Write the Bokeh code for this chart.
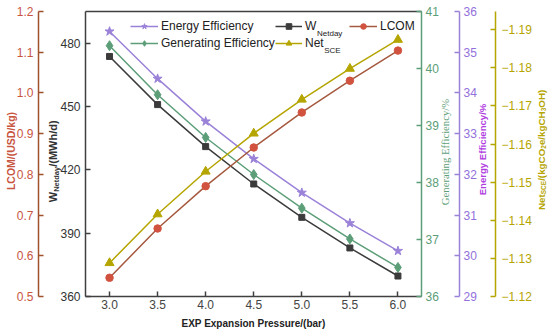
import math
from bokeh.plotting import figure
from bokeh.models import (Range1d, LinearAxis, FixedTicker, CustomJSTickFormatter,
                          NumeralTickFormatter, Legend, LegendItem, Label)
from bokeh.embed import file_html
from bokeh.resources import INLINE

# ---------------- data ----------------
pressure = [3.0, 3.5, 4.0, 4.5, 5.0, 5.5, 6.0]
energy_eff = [35.51, 34.35, 33.30, 32.38, 31.55, 30.80, 30.12]
gen_eff = [40.40, 39.54, 38.79, 38.14, 37.55, 37.01, 36.51]
w_netday = [473.7, 450.9, 431.0, 413.3, 397.5, 383.0, 369.7]
lcom = [0.546, 0.667, 0.771, 0.866, 0.952, 1.030, 1.104]
net_sce = [-1.1288, -1.1416, -1.1528, -1.1628, -1.1717, -1.1798, -1.1874]

x_ticks = [3.0, 3.5, 4.0, 4.5, 5.0, 5.5, 6.0]
w_ticks = [360, 390, 420, 450, 480]
lcom_ticks = [0.5, 0.6, 0.7, 0.8, 0.9, 1.0, 1.1, 1.2]
gen_ticks = [36, 37, 38, 39, 40, 41]
energy_ticks = [29, 30, 31, 32, 33, 34, 35, 36]
net_ticks = [-1.12, -1.13, -1.14, -1.15, -1.16, -1.17, -1.18, -1.19]

# axis extents (value at plot-box bottom, value at plot-box top)
X_BOX = (2.75, 6.245)
W_BOX = (360, 495)
LCOM_BOX = (0.5, 1.2)
GEN_BOX = (36, 41)
EN_BOX = (29, 36)
NET_BOX = (-1.12, -1.1948)

# ---------------- layout (page pixels) ----------------
W_PX, H_PX = 550, 333
FL, FR, FT, FB = 85, 421, 11, 296          # plot box edges
AX_LCOM, AX_EN, AX_NET = 38, 459, 495       # extra axis line positions

def xval(px):
    return X_BOX[0] + (px - FL) / (FR - FL) * (X_BOX[1] - X_BOX[0])

def yval(box, py):
    return box[0] + (FB - py) / (FB - FT) * (box[1] - box[0])

def rng(box):
    return Range1d(yval(box, H_PX), yval(box, 0))

# ---------------- style ----------------
FONT = "Liberation Sans"
C_EN = "#9B82D9"; C_EN_LAB = "#B03CDF"; C_EN_TICK = "#9370DB"
C_GEN = "#5C9E78"
C_W = "#3B3B3B"; C_BOX = "#404040"
C_LC_LINE = "#A5593F"; C_LC_PT = "#D1533F"; C_LC_AX = "#A0522D"; C_LC_TXT = "#C8553F"
C_NET = "#B5A500"

p = figure(width=W_PX, height=H_PX, output_backend="svg", toolbar_location=None,
           x_range=Range1d(xval(0), xval(W_PX)), y_range=rng(W_BOX),
           min_border_left=0, min_border_right=0, min_border_top=0, min_border_bottom=0,
           x_axis_location=None, y_axis_location=None)
p.title.visible = False
p.xgrid.visible = False
p.ygrid.visible = False
p.outline_line_color = None
p.background_fill_color = "white"
p.border_fill_color = "white"

p.extra_y_ranges = {"lcom": rng(LCOM_BOX), "gen": rng(GEN_BOX),
                    "energy": rng(EN_BOX), "net": rng(NET_BOX)}

def make_axis(side, fixed, bounds, color, tick_color, ticks, standoff=5, range_name=None,
              formatter=None):
    kw = {} if range_name is None else {"y_range_name": range_name}
    ax = LinearAxis(fixed_location=fixed, bounds=(min(bounds), max(bounds)), **kw)
    ax.ticker = FixedTicker(ticks=ticks)
    ax.axis_line_color = color
    ax.axis_line_width = 1.5
    ax.major_tick_line_color = color
    ax.major_tick_line_width = 1.5
    ax.major_tick_in = 5
    ax.major_tick_out = 0
    ax.minor_tick_line_color = None
    ax.major_label_text_font = FONT
    ax.major_label_text_font_size = "12px"
    ax.major_label_text_color = tick_color
    ax.major_label_standoff = standoff
    if formatter is not None:
        ax.formatter = formatter
    p.add_layout(ax, side)
    return ax

fmt1 = NumeralTickFormatter(format="0.0")
make_axis("below", W_BOX[0], X_BOX, C_BOX, "#444444", x_ticks, standoff=3, formatter=fmt1)
top = make_axis("above", W_BOX[1], X_BOX, C_BOX, C_BOX, [])
top.major_label_text_font_size = "0px"
make_axis("left", X_BOX[0], W_BOX, C_BOX, "#333333", w_ticks)
make_axis("left", xval(AX_LCOM), LCOM_BOX, C_LC_AX, C_LC_TXT, lcom_ticks, range_name="lcom",
          formatter=NumeralTickFormatter(format="0.0"))
make_axis("right", X_BOX[1], GEN_BOX, C_GEN, C_GEN, gen_ticks, standoff=4, range_name="gen")
make_axis("right", xval(AX_EN), EN_BOX, C_EN, C_EN_TICK, energy_ticks, standoff=4,
          range_name="energy")
make_axis("right", xval(AX_NET), NET_BOX, C_NET, C_NET, net_ticks, standoff=6,
          range_name="net",
          formatter=CustomJSTickFormatter(code="return '\\u2212' + Math.abs(tick).toFixed(2);"))

# ---------------- series ----------------
LW = 1.5
e_l = p.line(pressure, energy_eff, y_range_name="energy", line_color=C_EN, line_width=LW)
e_p = p.scatter(pressure, energy_eff, y_range_name="energy", marker="star", size=9.5,
                fill_color=C_EN, line_color=C_EN)
g_l = p.line(pressure, gen_eff, y_range_name="gen", line_color=C_GEN, line_width=LW)
g_p = p.scatter(pressure, gen_eff, y_range_name="gen", marker="diamond", size=10,
                fill_color=C_GEN, line_color=C_GEN)
w_l = p.line(pressure, w_netday, line_color=C_W, line_width=LW)
w_p = p.scatter(pressure, w_netday, marker="square", size=6, fill_color=C_W, line_color=C_W)
l_l = p.line(pressure, lcom, y_range_name="lcom", line_color=C_LC_LINE, line_width=LW)
l_p = p.scatter(pressure, lcom, y_range_name="lcom", marker="circle", size=7.5,
                fill_color=C_LC_PT, line_color=C_LC_PT)
n_l = p.line(pressure, net_sce, y_range_name="net", line_color=C_NET, line_width=LW)
n_p = p.scatter(pressure, net_sce, y_range_name="net", marker="triangle", size=9,
                fill_color=C_NET, line_color=C_NET)

ITEM_H, GAP = 14, 3
LEG_TOP = 18.8

def make_legend(items, left, top_px, gw=28):
    h = ITEM_H * len(items) + GAP * (len(items) - 1)
    lg = Legend(items=items, orientation="vertical", location=(left, H_PX - top_px - h),
                padding=0, margin=0, spacing=GAP, glyph_width=gw, glyph_height=ITEM_H,
                label_height=ITEM_H, label_width=10, label_standoff=3, label_text_font=FONT,
                label_text_font_size="12px", label_text_color="#222222",
                border_line_color=None, background_fill_alpha=0)
    p.add_layout(lg)

make_legend([LegendItem(label="Energy Efficiency", renderers=[e_l, e_p]),
             LegendItem(label="Generating Efficiency", renderers=[g_l, g_p])], 130, LEG_TOP)
make_legend([LegendItem(label="W", renderers=[w_l, w_p]),
             LegendItem(label="Net", renderers=[n_l, n_p])], 275, LEG_TOP, gw=27)
make_legend([LegendItem(label="LCOM", renderers=[l_l, l_p])], 349, LEG_TOP)

# ---------------- text labels (screen units, frame == whole canvas) ----------------
BOLD = {"N": 722, "e": 556, "t": 333, "S": 667, "C": 722, "E": 667, "/": 278, "(": 333,
        "k": 556, "g": 611, "O": 778, "2": 556, "H": 722, "3": 556, ")": 333, "W": 944,
        "d": 611, "a": 556, "y": 556, "M": 833, "h": 611}

def lab(text, X, Y, size, color, font=FONT, style="bold", angle=math.pi / 2,
        align="left", baseline="alphabetic"):
    p.add_layout(Label(x=X, y=H_PX - Y, x_units="screen", y_units="screen", text=text,
                       angle=angle, text_align=align, text_baseline=baseline,
                       text_font=font, text_font_size=f"{size}px", text_font_style=style,
                       text_color=color))

def rotated_pieces(pieces, X_main, X_sub, Y0, main, sub, color):
    Y = Y0
    for txt, is_sub in pieces:
        sz = sub if is_sub else main
        lab(txt, X_sub if is_sub else X_main, Y, sz, color)
        Y -= sum(BOLD[c] for c in txt) / 1000.0 * sz

lab("EXP Expansion Pressure/(bar)", 253, 322.5, 10, "#222222", angle=0, align="center",
    baseline="middle")
lab("LCOM/(USD/kg)", 10.8, 150.5, 10.5, C_LC_TXT, align="center", baseline="middle")
rotated_pieces([("W", False), ("Netday", True), ("/(MWh/d)", False)],
               52.5, 55.5, 201.7, 11, 7.5, "#333333")
lab("Generating Efficiency/%", 444.0, 151.5, 10.7, C_GEN, font="Liberation Serif",
    style="normal", align="center", baseline="middle")
lab("Energy Efficiency/%", 481.7, 149.0, 9.6, C_EN_LAB, align="center", baseline="middle")
rotated_pieces([("Net", False), ("SCE", True), ("/(kgCO", False), ("2", True),
                ("e/kgCH", False), ("3", True), ("OH)", False)],
               540.7, 543.2, 209.5, 9.8, 6.5, C_NET)

# legend subscripts
row1 = LEG_TOP + ITEM_H / 2
row2 = row1 + ITEM_H + GAP
lab("Netday", 316.5, row1 + 6.8, 8, "#222222", style="normal", angle=0)
lab("SCE", 323.7, row2 + 6.8, 8, "#222222", style="normal", angle=0)

open("out.html", "w").write(file_html(p, INLINE))
